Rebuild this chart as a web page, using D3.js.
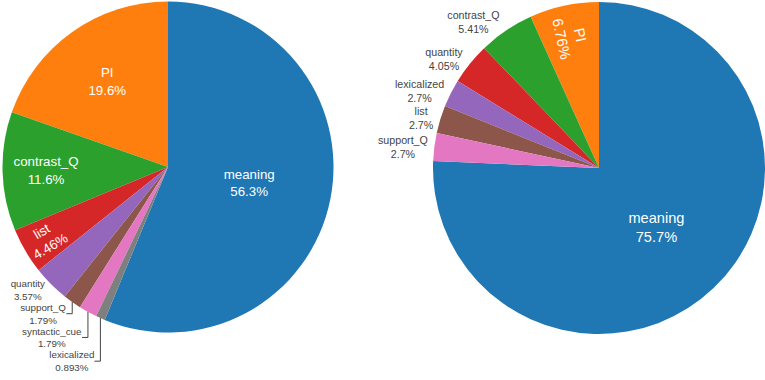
<!DOCTYPE html>
<html>
<head>
<meta charset="utf-8">
<script src="https://cdn.jsdelivr.net/npm/d3@7"></script>
<style>
  body { margin: 0; background: #fff; }
  svg { display: block; font-family: "Liberation Sans", Arial, sans-serif; }
</style>
</head>
<body>
<svg id="chart" width="765" height="380"></svg>
<script>
// counts per category, largest first (colours follow this order)
const leftLabels = ["meaning", "PI", "contrast_Q", "list", "quantity", "support_Q", "syntactic_cue", "lexicalized"];
const leftCounts = [63, 22, 13, 5, 4, 2, 2, 1];

const rightLabels = ["meaning", "PI", "contrast_Q", "quantity", "lexicalized", "list", "support_Q"];
const rightCounts = [112, 10, 8, 6, 4, 4, 4];

const TEXTPAD = 3;
const fmtPct = d3.format(".3~r");
const svg = d3.select('#chart');

const addLabel = (g, name, pct, size, fill) => {
  const t = g.append('text')
    .attr('text-anchor', 'middle')
    .attr('font-size', size)
    .attr('fill', fill);
  t.append('tspan').attr('x', 0).attr('dy', 0).text(name);
  t.append('tspan').attr('x', 0).attr('dy', '1.3em').text(pct);
  return t;
};

// centre the text box on (x, y), optionally rotated
const place = (t, bb, x, y, rot) => {
  t.attr('transform', `translate(${x},${y}) rotate(${rot}) translate(${-(bb.x + bb.width / 2)},${-(bb.y + bb.height / 2)})`);
};

const drawPie = (labels, counts, o) => {
  const total = d3.sum(counts);
  const color = d3.scaleOrdinal().domain(labels).range(d3.schemeCategory10);
  // biggest slice ends at 12 o'clock, the rest run counterclockwise from there
  const a0 = 2 * Math.PI * counts[0] / total;
  const pie = d3.pie().sort(null).value(d => d.value)
    .startAngle(a0).endAngle(a0 - 2 * Math.PI);
  const arc = d3.arc().innerRadius(0).outerRadius(o.r);
  const slices = pie(labels.map((label, i) => ({label, value: counts[i]})));

  const g = svg.append('g').attr('transform', `translate(${o.cx},${o.cy})`);

  g.selectAll('path.slice').data(slices)
    .enter().append('path')
      .attr('class', 'slice')
      .attr('d', arc)
      .attr('fill', d => color(d.data.label));

  const outside = [];

  slices.forEach(d => {
    const mid = (d.startAngle + d.endAngle) / 2;
    const half = Math.min(Math.abs(d.endAngle - d.startAngle) / 2, Math.PI / 2);
    const sx = Math.sin(mid), sy = -Math.cos(mid);
    const pct = fmtPct(100 * d.value / total) + '%';

    let t = addLabel(g, d.data.label, pct, o.insideSize, '#fff');
    let bb = t.node().getBBox();

    // horizontal text inside the slice
    const rIns = Math.min(Math.sin(half) / (1 + Math.sin(half)), 0.5);
    const diag = Math.hypot(bb.width + 2 * TEXTPAD, bb.height + 2 * TEXTPAD);
    if (rIns * o.r * 2 >= diag) {
      const rc = o.r * (1 - rIns);
      place(t, bb, sx * rc, sy * rc, 0);
      return;
    }

    // radial text inside the slice
    const a = bb.width / bb.height;
    const rr = o.r - 2 * TEXTPAD;
    const q = a + 1 / (2 * Math.tan(half));
    const s = rr * Math.min(1 / (Math.sqrt(q * q + 0.5) + q), 1 / (Math.sqrt(a * a + 0.5) + a));
    if (half < Math.PI / 2 && 2 * s / bb.height >= 1) {
      const b = s / rr;
      const rc = (Math.cos(b) - a * b) * (o.r - TEXTPAD);
      let rot = mid * 180 / Math.PI - 90;
      rot = ((rot % 180) + 180) % 180;
      if (rot > 90) rot -= 180;
      place(t, bb, sx * rc, sy * rc, rot);
      return;
    }

    // does not fit: put it outside
    t.remove();
    t = addLabel(g, d.data.label, pct, o.outsideSize, '#444');
    bb = t.node().getBBox();
    const px = sx * o.r, py = sy * o.r;
    let dx = bb.width / 2, dy = bb.height / 2;
    if (px < 0) dx = -dx;
    if (py < 0) dy = -dy;
    outside.push({
      t, bb, px, py,
      x: px + dx + Math.abs(dy) * Math.sign(dx) / 2,
      y: py + dy / (1 + px * px / (py * py)),
      h: bb.height,
      extra: 0
    });
  });

  // push overlapping outside labels away from the equator
  [-1, 1].forEach(xs => [-1, 1].forEach(ys => {
    const quad = outside
      .filter(p => (p.px < 0 ? -1 : 1) === xs && (p.py < 0 ? -1 : 1) === ys)
      .sort((m, n) => ys > 0 ? m.py - n.py : n.py - m.py);
    quad.forEach((p, i) => {
      if (!i) return;
      const prev = quad[i - 1];
      if (ys > 0) {
        const need = prev.y + prev.extra + prev.h / 2 - (p.y - p.h / 2);
        if (need > 0) p.extra = need;
      } else {
        const need = prev.y + prev.extra - prev.h / 2 - (p.y + p.h / 2);
        if (need < 0) p.extra = need;
      }
    });
  }));

  outside.forEach(p => {
    place(p.t, p.bb, p.x, p.y + p.extra, 0);
    if (p.extra) {
      const finalX = p.h / 4 * (p.px < 0 ? -1 : 1);
      g.append('path')
        .attr('d', `M${p.px},${p.py}V${p.y + p.extra}h${finalX}`)
        .attr('fill', 'none')
        .attr('stroke', '#444')
        .attr('stroke-width', 1);
    }
  });
};

drawPie(leftLabels, leftCounts, {cx: 168, cy: 167, r: 165.5, insideSize: 13.3, outsideSize: 9.8});
drawPie(rightLabels, rightCounts, {cx: 599, cy: 168, r: 166, insideSize: 14.6, outsideSize: 10.7});
</script>
</body>
</html>
